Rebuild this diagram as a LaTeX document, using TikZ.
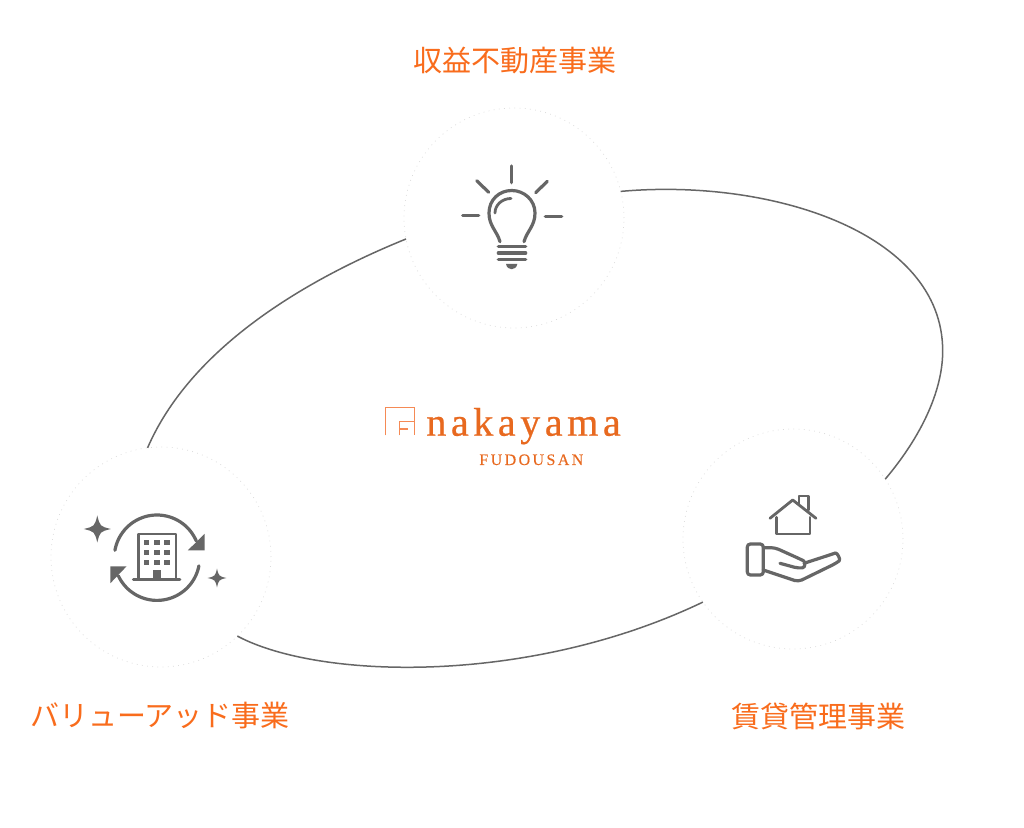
\documentclass[tikz,border=0pt]{standalone}
\usepackage{fontspec}
\newfontfamily\cjkfont{Noto Sans CJK JP}
\newfontfamily\logofont[LetterSpace=11.5,FakeBold=0.6]{Liberation Serif}
\newfontfamily\subfont[LetterSpace=15,FakeBold=0.2]{Liberation Serif}
\definecolor{brandOrange}{HTML}{F96C1C}
\definecolor{logoOrange}{HTML}{E8691F}
\definecolor{markOrange}{HTML}{F58A55}
\definecolor{iconGrey}{HTML}{666666}
\newcommand{\mySpark}[3]{%%
  %% Draw a four-pointed star.
  \fill[iconGrey,shift={(#1,#2)}] (0,-#3) .. controls (0.2*#3,-0.2*#3) .. (#3,0)
  .. controls (0.2*#3,0.2*#3) .. (0,#3) .. controls (-0.2*#3,0.2*#3) .. (-#3,0)
  .. controls (-0.2*#3,-0.2*#3) .. cycle;
}
\newcommand{\myBulb}{%%
  %% Draw the rays.
  \draw[iconStyle] (511.7,166) -- (511.7,182.7);
  \draw[iconStyle] (476.7,180.7) -- (488.7,192.3);
  \draw[iconStyle] (547.3,181.3) -- (535.7,192.7);
  \draw[iconStyle] (462.7,215.7) -- (478.7,215.7);
  \draw[iconStyle] (545.3,216.3) -- (561.7,216.3);
  %% Draw the glass and its highlight.
  \draw[iconStyle] (500,241.7) .. controls (497,231) and (489,226) .. (489,213)
  .. controls (489,200) and (499,190.5) .. (511.7,190.5)
  .. controls (524,190.5) and (535,200) .. (535,213)
  .. controls (535,226) and (527,231) .. (524,241.7);
  \draw[iconThin] (495,213) .. controls (495,205) and (502,198.5) .. (511,198.5);
  %% Draw the screw base.
  \foreach \ypos in {246.7,253,259.3}
    \draw[iconStyle] (498.3,\ypos) -- (525.7,\ypos);
  \fill[iconGrey] (506,264) -- (517.3,264) .. controls (516,271) and (507.3,271) .. cycle;
}
\newcommand{\myBuilding}{%%
  %% Draw the two arrows round the building.
  \draw[iconStyle] plot[domain=190:337,samples=40] ({157+42.7*cos(\x)},{557.7+42.7*sin(\x)});
  \fill[iconGrey] (204.6,533.8) -- (204.6,550.4) -- (187.8,550.4) -- cycle;
  \draw[iconStyle] plot[domain=11:155,samples=40] ({157+42.7*cos(\x)},{557.7+42.7*sin(\x)});
  \fill[iconGrey] (110.4,566.4) -- (126.5,566.4) -- (110.4,583.2) -- cycle;
  %% Draw the building.
  \draw[iconThin] (138.3,579.3) -- (138.3,534) -- (176,534) -- (176,579.3);
  \draw[iconThin] (133.3,579.3) -- (180,579.3);
  \foreach \xpos in {144,154.3,164.3}
    \foreach \ypos in {540,550,560}
      \fill[iconGrey] (\xpos,\ypos) rectangle ++(5.3,5.3);
  \fill[iconGrey] (152.7,570) rectangle (160.7,579.3);
  %% Draw the two stars.
  \mySpark{97.3}{529}{13.5}
  \mySpark{217}{578}{9.3}
}
\newcommand{\myHand}{%%
  %% Draw the house.
  \draw[iconThin] (770,518.3) -- (792.7,500) -- (816,518.3);
  \draw[iconThin] (776.7,517.3) -- (776.7,534) -- (810,534) -- (810,517.3);
  \draw[iconThin] (799,504.3) -- (799,496) -- (808.3,496) -- (808.3,510);
  %% Draw the cuff and the hand.
  \draw[iconStyle,rounded corners=1.5pt] (747.3,544) rectangle (763.3,575);
  \draw[iconStyle,rounded corners=2pt] (763.3,547.7) -- (775,547.7) -- (800,559)
  .. controls (805,561.5) and (806,567.5) .. (798.3,568.3) -- (780,563.3);
  \draw[iconStyle,rounded corners=2pt] (763.3,570) -- (798.3,581.7) -- (836,563.3)
  .. controls (841,559.5) and (837,552.5) .. (831.7,554.3) -- (804,563.3);
}
\newcommand{\myLogo}{%%
  %% Draw the square mark.
  \draw[markStyle] (385.7,435.5) -- (385.7,407.7) -- (414.3,407.7) -- (414.3,435.5);
  \draw[markStyle] (399.3,435.5) -- (399.3,421.5) -- (414.3,421.5);
  \draw[markStyle] (399.3,429) -- (407.5,429);
  %% Set the name.
  \node[logoStyle] (logoname) at (426,435.7) {nakayama};
  \node[subStyle] (logosub) at (479,465) {FUDOUSAN};
}

\begin{document}
\begin{tikzpicture}[%%
  x=0.5pt,y=-0.5pt,%%
  circleStyle/.style={draw=black!14,dash pattern=on 0.4pt off 2.2pt,line width=0.35pt,circle,inner sep=0pt,outer sep=0pt,minimum size=110pt},%%
  curveStyle/.style={-,draw=iconGrey,line width=0.75pt},%%
  iconStyle/.style={draw=iconGrey,line width=1.6pt,line cap=round,line join=round},%%
  iconThin/.style={draw=iconGrey,line width=1.4pt,line cap=round,line join=round},%%
  markStyle/.style={draw=markOrange,line width=0.65pt},%%
  labelStyle/.style={text=brandOrange,font=\cjkfont\fontsize{14.5}{16}\selectfont},%%
  logoStyle/.style={anchor=base west,inner sep=0pt,text=logoOrange,font=\logofont\fontsize{20}{22}\selectfont},%%
  subStyle/.style={anchor=base west,inner sep=0pt,text=logoOrange,font=\subfont\fontsize{8}{10}\selectfont}
]
%%
\useasboundingbox (0,0) rectangle (1024,828);
\fill[white] (0,0) rectangle (1024,828);
%%
%% The three circles and their titles.
\node[circleStyle] (income) at (514,218) {};
\node[circleStyle] (value) at (161,557) {};
\node[circleStyle] (rental) at (793,539) {};
\node[labelStyle] (incomeLabel) at (515,61) {収益不動産事業};
\node[labelStyle] (valueLabel) at (160,716) {バリューアッド事業};
\node[labelStyle] (rentalLabel) at (818,716) {賃貸管理事業};
%%
%% The curves between the circles.
\draw[curveStyle] (income.14) .. controls (770,178) and (942.7,232) .. (942.7,351)
.. controls (942.7,392) and (920,438) .. (rental.33.5);
\draw[curveStyle] (income.191.5) .. controls (300,282) and (190,350) .. (value.97);
\draw[curveStyle] (value.-46) .. controls (320,680) and (530,685) .. (rental.215);
%%
\myBulb
\myBuilding
\myHand
\myLogo

\end{tikzpicture}
\end{document}
